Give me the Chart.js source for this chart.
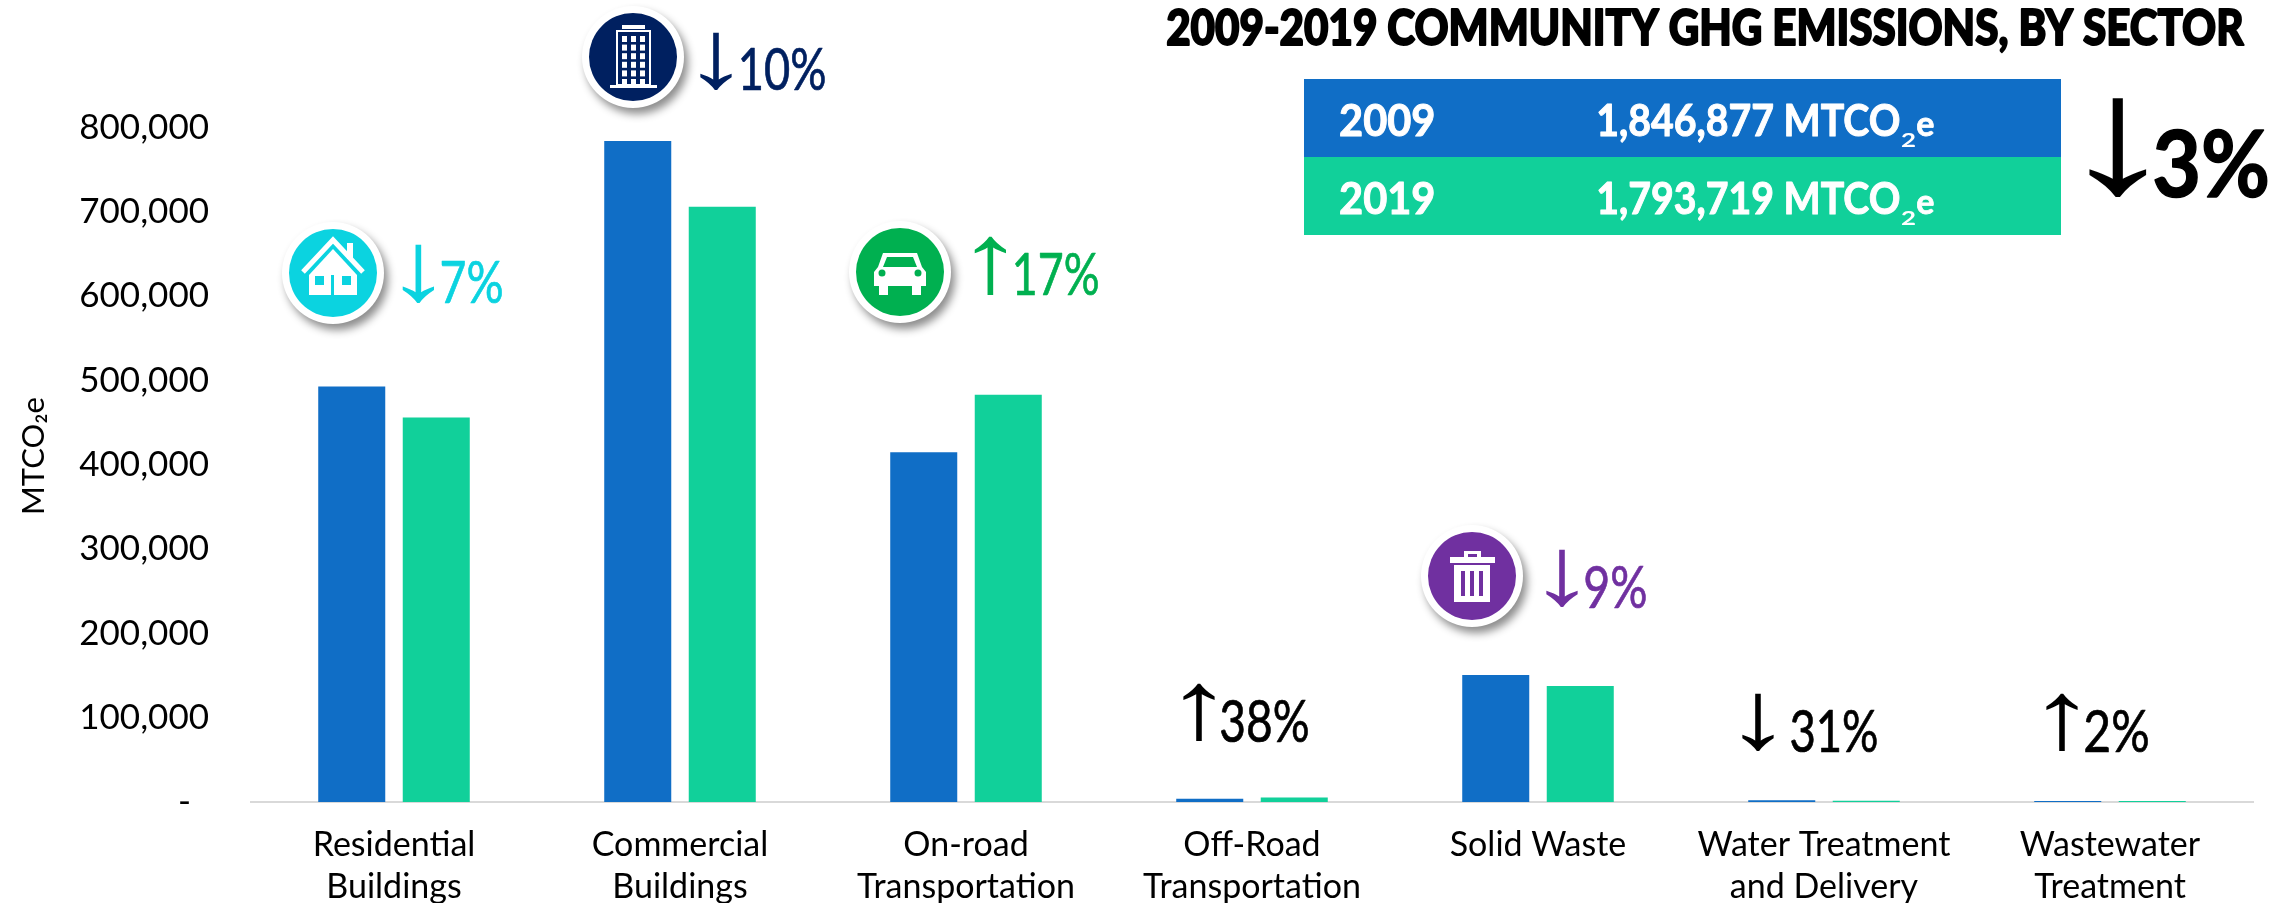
<!DOCTYPE html>
<html><head><meta charset="utf-8">
<style>html,body{margin:0;padding:0;background:#fff}#w{position:relative;width:2295px;height:903px}</style>
<script src="https://cdn.jsdelivr.net/npm/chart.js@4"></script></head>
<body><div id="w"><canvas id="c" width="2295" height="903"></canvas></div>
<script>
const categories=[['Residential','Buildings'],['Commercial','Buildings'],['On-road','Transportation'],['Off-Road','Transportation'],['Solid Waste',''],['Water Treatment','and Delivery'],['Wastewater','Treatment']];
const values2009=[493000,784000,415000,3800,150600,2000,1200];
const values2019=[456000,706000,483000,5200,137600,1400,1200];
const yTickValues=[0,100000,200000,300000,400000,500000,600000,700000,800000];
const changeArrows=['↓','↓','↑','↑','↓','↓','↑'];
const changeTexts=['7%','10%','17%','38%','9%','31%','2%'];
const changeColors=['#0BD3E0','#002060','#00B050','#000000','#7030A0','#000000','#000000'];
const titleText='2009-2019 COMMUNITY GHG EMISSIONS, BY SECTOR';
const totalYears=['2009','2019'];
const totalValues=['1,846,877 MTCO','1,793,719 MTCO'];
const totalChange=['↓','3%'];
const BLUE='#106EC6',GREEN='#11D09A';

// layout of annotations: offsets from each category centre, pixel rows from the page
const noteLayout=[
 {icon:'house',ix:-61,iy:273,ax:24,a0:244,a1:303,t0:48,t1:108,tTop:262,tBot:303},
 {icon:'tower',ix:-47,iy:57,ax:36,a0:32,a1:90,t0:61,t1:145,tTop:48,tBot:90},
 {icon:'car',ix:-66,iy:272,ax:24,a0:236,a1:295,t0:49,t1:132,tTop:253,tBot:295},
 {ax:-53,a0:683,a1:741,t0:-31,t1:56,tTop:700,tBot:742},
 {icon:'bin',ix:-66,iy:576,ax:24,a0:549,a1:607,t0:47,t1:108,tTop:566,tBot:608},
 {ax:-66,a0:693,a1:751,t0:-33,t1:53,tTop:710,tBot:752},
 {ax:-48,a0:693,a1:751,t0:-25,t1:38,tTop:710,tBot:752}
];

function fit(ctx,text,font,color,x0,x1,yTop,yBase,stroke){
 ctx.save();ctx.font=font;ctx.fillStyle=color;ctx.textAlign='left';ctx.textBaseline='alphabetic';
 const m=ctx.measureText(text);
 const w=m.actualBoundingBoxRight+m.actualBoundingBoxLeft,h=m.actualBoundingBoxAscent;
 const sx=(x1-x0)/w,sy=(yBase-yTop)/h;
 ctx.translate(x0,yBase);ctx.scale(sx,sy);
 ctx.fillText(text,m.actualBoundingBoxLeft,0);
 if(stroke){ctx.strokeStyle=color;ctx.lineWidth=stroke;ctx.lineJoin='round';ctx.strokeText(text,m.actualBoundingBoxLeft,0);}
 ctx.restore();
}
function arrow(ctx,ch,color,cx,halfW,yTop,yBot,weight){
 ctx.save();ctx.font=(weight||'400')+' 100px "Liberation Sans"';ctx.fillStyle=color;ctx.textBaseline='alphabetic';ctx.textAlign='left';
 const m=ctx.measureText(ch);
 const w=m.actualBoundingBoxRight+m.actualBoundingBoxLeft,h=m.actualBoundingBoxAscent+m.actualBoundingBoxDescent;
 const sx=2*halfW/w,sy=(yBot-yTop)/h;
 ctx.translate(cx-halfW,yTop);ctx.scale(sx,sy);
 ctx.fillText(ch,m.actualBoundingBoxLeft,m.actualBoundingBoxAscent);ctx.restore();
}
function badge(ctx,x,y,color){
 ctx.save();ctx.shadowColor='rgba(0,0,0,0.45)';ctx.shadowBlur=9;ctx.shadowOffsetX=4;ctx.shadowOffsetY=6;
 ctx.fillStyle='#fff';ctx.beginPath();ctx.arc(x,y,51,0,7);ctx.fill();ctx.restore();
 ctx.fillStyle=color;ctx.beginPath();ctx.arc(x,y,44,0,7);ctx.fill();
}
const R=(c,x,y,w,h)=>c.fillRect(x,y,w,h);
const icons={
 house(c,col){c.strokeStyle='#fff';c.lineWidth=5;c.beginPath();c.moveTo(-30,-1);c.lineTo(0,-33);c.lineTo(30,-1);c.stroke();
  c.fillStyle='#fff';R(c,14,-30,6,16);c.beginPath();c.moveTo(-24,2);c.lineTo(0,-24);c.lineTo(24,2);c.lineTo(24,22);c.lineTo(-24,22);c.fill();
  c.fillStyle=col;R(c,-18,3,9,9);R(c,9,3,9,9);R(c,-2,2,3,20);},
 tower(c,col){c.strokeStyle='#fff';c.fillStyle='#fff';c.lineWidth=2;c.strokeRect(-16,-26,33,54);R(c,-11,-32,23,4);R(c,-23,28,47,3);
  for(let i=0;i<3;i++)for(let j=0;j<6;j++){R(c,-11+i*9,-21+j*8.6,5,6);}},
 car(c,col){c.fillStyle='#fff';c.beginPath();c.moveTo(-17,-19);c.lineTo(17,-19);c.lineTo(22,-5);c.lineTo(26,0);c.lineTo(26,14);c.lineTo(-26,14);c.lineTo(-26,0);c.lineTo(-22,-5);c.closePath();c.fill();
  R(c,-21,14,9,9);R(c,12,14,9,9);c.fillStyle=col;c.beginPath();c.moveTo(-13,-15);c.lineTo(13,-15);c.lineTo(17,-5);c.lineTo(-17,-5);c.closePath();c.fill();
  c.beginPath();c.arc(-18,1,3.5,0,7);c.arc(18,1,3.5,0,7);c.fill();},
 bin(c,col){c.fillStyle='#fff';R(c,-22,-19,45,6);R(c,-8,-25,17,6);c.fillStyle=col;R(c,-4,-22,9,3);c.fillStyle='#fff';R(c,-18,-11,36,37);
  c.fillStyle=col;R(c,-11,-5,4,25);R(c,-2,-5,4,25);R(c,7,-5,4,25);}
};
const notes={id:'notes',afterDraw(chart){
 const ctx=chart.ctx,xs=chart.scales.x;
 noteLayout.forEach((n,i)=>{
  const cx=xs.getPixelForValue(i),col=changeColors[i];
  if(n.icon){const x=cx+n.ix;badge(ctx,x,n.iy,col);ctx.save();ctx.translate(x,n.iy);icons[n.icon](ctx,col);ctx.restore();}
  arrow(ctx,changeArrows[i],col,cx+n.ax,16,n.a0,n.a1);
  fit(ctx,changeTexts[i],'400 56px Lato',col,cx+n.t0,cx+n.t1,n.tTop,n.tBot,0.7);
 });
 fit(ctx,titleText,'900 50px Lato','#000',1167,2244,9,45,2);
 ctx.fillStyle=BLUE;ctx.fillRect(1304,79,757,78);ctx.fillStyle=GREEN;ctx.fillRect(1304,157,757,78);
 [0,1].forEach(k=>{const d=k*77.5;
  fit(ctx,totalYears[k],'700 44px Lato','#fff',1340,1434,104+d,136+d,1);
  fit(ctx,totalValues[k],'700 44px Lato','#fff',1598,1899,104+d,136+d,1);
  fit(ctx,'2','700 24px Lato','#fff',1901,1915,133+d,147+d);
  fit(ctx,'e','700 44px Lato','#fff',1917,1934,118+d,136+d,1);
 });
 arrow(ctx,totalChange[0],'#000',2118,29,97,197,'700');
 fit(ctx,totalChange[1],'700 92px Lato','#000',2155,2267,129,197,1.5);
}};
new Chart(document.getElementById('c'),{type:'bar',
 data:{labels:categories,datasets:[
  {label:'2009',data:values2009,backgroundColor:BLUE,categoryPercentage:0.591,barPercentage:0.793},
  {label:'2019',data:values2019,backgroundColor:GREEN,categoryPercentage:0.591,barPercentage:0.793}]},
 plugins:[notes],
 options:{responsive:false,animation:false,
  layout:{padding:{top:110,right:42,left:0,bottom:0}},
  plugins:{legend:{display:false},title:{display:false},tooltip:{enabled:false}},
  scales:{
   x:{grid:{display:false,drawTicks:false},border:{display:true,color:'#D9D9D9',width:2},
      ticks:{color:'#000',font:{family:'Lato',size:34,lineHeight:1.235},padding:22,maxRotation:0,autoSkip:false},
      afterFit(s){s.height=101;}},
   y:{min:0,max:820900,grid:{display:false,drawTicks:false},border:{display:false},
      ticks:{autoSkip:false,color:'#000',font:{family:'Lato',size:35},padding:42,
       callback:v=>v===0?'-\u00A0\u00A0':v.toLocaleString('en-US')},
      afterBuildTicks(s){s.ticks=yTickValues.map(value=>({value}));},
      afterFit(s){s.width=251;},
      title:{display:true,text:'MTCO₂e',color:'#000',font:{family:'Lato',size:31},padding:{top:15,bottom:0}}}
  }}});
</script></body></html>
